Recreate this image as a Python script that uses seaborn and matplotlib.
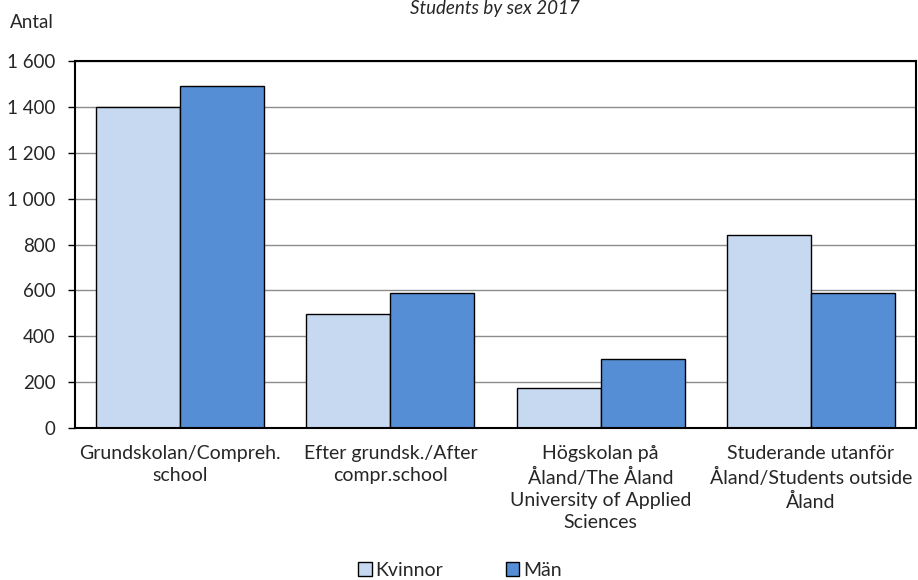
import matplotlib
matplotlib.use("Agg")
import matplotlib.pyplot as plt
import matplotlib.ticker as mticker
import pandas as pd
import seaborn as sns

categories = [
    "Grundskolan/Compreh.\nschool",
    "Efter grundsk./After\ncompr.school",
    "Högskolan på\nÅland/The Åland\nUniversity of Applied\nSciences",
    "Studerande utanför\nÅland/Students outside\nÅland",
]
kvinnor = [1400, 497, 174, 841]
man = [1493, 588, 301, 588]
series = ["Kvinnor", "Män"]
colors = ["#C6D9F1", "#558ED5"]

df = pd.DataFrame({
    "kategori": categories * 2,
    "kon": [series[0]] * 4 + [series[1]] * 4,
    "antal": kvinnor + man,
})

sns.set_theme(style="white")
plt.rcParams["font.family"] = ["Lato", "DejaVu Sans"]

fig = plt.figure(figsize=(9.18, 5.8), dpi=100)
ax = fig.add_axes([75 / 918, 1 - 428 / 580, 841 / 918, 367 / 580])

sns.barplot(data=df, x="kategori", y="antal", hue="kon", palette=colors,
            edgecolor="black", linewidth=1, saturation=1, ax=ax, legend=False)

ax.set_ylim(0, 1600)
ax.set_yticks(range(0, 1601, 200))
ax.yaxis.set_major_formatter(mticker.FuncFormatter(lambda v, p: f"{int(v):,}".replace(",", " ")))
ax.yaxis.grid(True, color="#8c8c8c", linewidth=1)
ax.set_axisbelow(True)
ax.set_xlabel("")
ax.set_ylabel("")
ax.tick_params(axis="y", length=5, width=1, color="black", labelsize=13.5, pad=9, direction="out", left=True)
ax.tick_params(axis="x", length=0, labelsize=14, pad=12)
for lbl in ax.get_xticklabels():
    lbl.set_linespacing(1.38)
for spine in ax.spines.values():
    spine.set_color("black")
    spine.set_linewidth(1.5)

fig.text(10 / 918, 1 - 22 / 580, "Antal", fontsize=13.5, ha="left", va="center")
fig.text(495 / 918, 1.0, "Students by sex 2017", fontsize=13.5,
         style="italic", ha="center", va="top")

handles = [plt.Rectangle((0, 0), 1, 1, facecolor=c, edgecolor="black", linewidth=1)
           for c in colors]
fig.legend(handles, series, loc="center", bbox_to_anchor=(460 / 918, 1 - 570 / 580),
           ncol=2, frameon=False, fontsize=14, handlelength=0.7, handleheight=0.7,
           handletextpad=0.2, columnspacing=3.2)

fig.savefig("out.png", dpi=100)
